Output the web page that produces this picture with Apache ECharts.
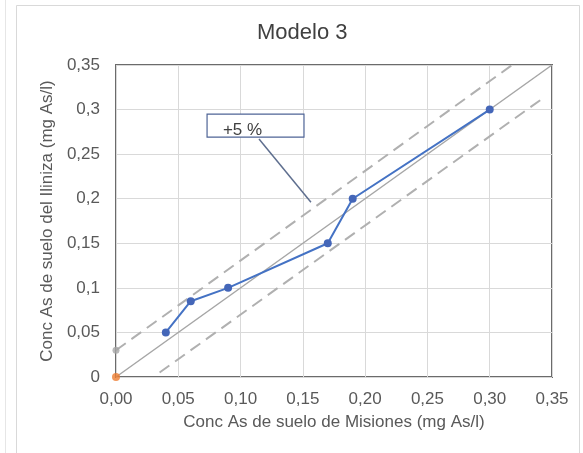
<!DOCTYPE html>
<html>
<head>
<meta charset="utf-8">
<script src="https://cdn.jsdelivr.net/npm/echarts@6/dist/echarts.min.js"></script>
<style>
  html, body { margin: 0; padding: 0; background: #fff; }
  #chart { width: 583px; height: 453px; }
</style>
</head>
<body>
<div id="chart"></div>
<script>
// measured points (Misiones, Iliniza)
const modeloX = [0.04, 0.06, 0.09, 0.17, 0.19, 0.30];
const modeloY = [0.05, 0.085, 0.10, 0.15, 0.20, 0.30];
// 1:1 line and the two +/- bands
const diagLine = [[0, 0], [0.35, 0.35]];
const upperBand = [[0, 0.03], [0.318, 0.35]];
const lowerBand = [[0.035, 0.005], [0.342, 0.312]];
const originPoint = [[0, 0]];
const bandStart = [[0, 0.03]];
// callout
const calloutLabel = "+5 %";
const calloutBox = [[0.0731, 0.2950], [0.1509, 0.2692]];
const calloutLeader = [[0.1148, 0.267], [0.1565, 0.196]];
// tick labels
const xTicks = ["0,00", "0,05", "0,10", "0,15", "0,20", "0,25", "0,30", "0,35"];
const yTicks = ["0", "0,05", "0,1", "0,15", "0,2", "0,25", "0,3", "0,35"];

const txt = "#595959";
const font = "Liberation Sans, Arial, sans-serif";

const chart = echarts.init(document.getElementById("chart"));

const option = {
  animation: false,
  backgroundColor: "#fff",
  title: {
    text: "Modelo 3",
    left: 257,
    top: 22,
    padding: 0,
    textStyle: { color: "#404040", fontSize: 22, fontWeight: "normal", fontFamily: font },
  },
  graphic: [
    { type: "rect", shape: { x: 16.5, y: 5.5, width: 563, height: 460 }, style: { fill: "none", stroke: "#d9d9d9", lineWidth: 1 }, silent: true },
    { type: "line", shape: { x1: 5.5, y1: 0, x2: 5.5, y2: 453 }, style: { stroke: "#e6e6e6", lineWidth: 1 }, silent: true },
  ],
  grid: {
    left: 116,
    right: 31,
    top: 65,
    bottom: 76,
    show: true,
    borderColor: "#6b6b6b",
    borderWidth: 2,
    backgroundColor: "transparent",
  },
  xAxis: {
    type: "value",
    min: 0,
    max: 0.35,
    interval: 0.05,
    name: "Conc As de suelo de Misiones (mg As/l)",
    nameLocation: "middle",
    nameGap: 37,
    nameTextStyle: { color: txt, fontSize: 17, fontFamily: font },
    axisLine: { show: false },
    axisTick: { show: false },
    axisLabel: {
      color: txt,
      fontSize: 17,
      fontFamily: font,
      margin: 14,
      formatter: (v) => xTicks[Math.round(v / 0.05)],
    },
    splitLine: { show: true, lineStyle: { color: "#d9d9d9", width: 1 } },
  },
  yAxis: {
    type: "value",
    min: 0,
    max: 0.35,
    interval: 0.05,
    name: "Conc As de suelo del Iliniza (mg As/l)",
    nameLocation: "middle",
    nameGap: 60,
    nameTextStyle: { color: txt, fontSize: 17, fontFamily: font },
    axisLine: { show: false },
    axisTick: { show: false },
    axisLabel: {
      color: txt,
      fontSize: 17,
      fontFamily: font,
      margin: 16,
      formatter: (v) => yTicks[Math.round(v / 0.05)],
    },
    splitLine: { show: true, lineStyle: { color: "#d9d9d9", width: 1 } },
  },
  series: [
    {
      name: "1:1",
      type: "line",
      data: diagLine,
      symbol: "none",
      lineStyle: { color: "#a6a6a6", width: 1.5 },
      z: 2,
    },
    {
      name: "+5%",
      type: "line",
      data: upperBand,
      symbol: "none",
      lineStyle: { color: "#b0b0b0", width: 2, type: [12, 7] },
      z: 2,
      markLine: {
        silent: true,
        symbol: "none",
        label: { show: false },
        lineStyle: { color: "#5f6f8f", width: 1.5, type: "solid" },
        data: [[{ coord: calloutLeader[0] }, { coord: calloutLeader[1] }]],
      },
      markArea: {
        silent: true,
        itemStyle: { color: "#fff", borderColor: "#4f6496", borderWidth: 1.2, opacity: 1 },
        label: {
          show: true,
          position: "inside",
          formatter: calloutLabel,
          color: "#404040",
          fontSize: 17,
          fontFamily: font,
          offset: [-13, 5],
        },
        data: [[{ coord: calloutBox[0] }, { coord: calloutBox[1] }]],
      },
    },
    {
      name: "-5%",
      type: "line",
      data: lowerBand,
      symbol: "none",
      lineStyle: { color: "#b0b0b0", width: 2, type: [12, 7] },
      z: 2,
    },
    {
      name: "inicio",
      type: "scatter",
      data: bandStart,
      symbolSize: 7,
      itemStyle: { color: "#a5a5a5" },
      z: 3,
    },
    {
      name: "Modelo 3",
      type: "line",
      data: modeloX.map((x, i) => [x, modeloY[i]]),
      symbol: "circle",
      symbolSize: 8,
      showSymbol: true,
      itemStyle: { color: "#4466b8" },
      lineStyle: { color: "#4472c4", width: 2 },
      z: 4,
    },
    {
      name: "origen",
      type: "scatter",
      data: originPoint,
      symbolSize: 8,
      itemStyle: { color: "#ed7d31" },
      z: 5,
    },
  ],
};

chart.setOption(option);
</script>
</body>
</html>
